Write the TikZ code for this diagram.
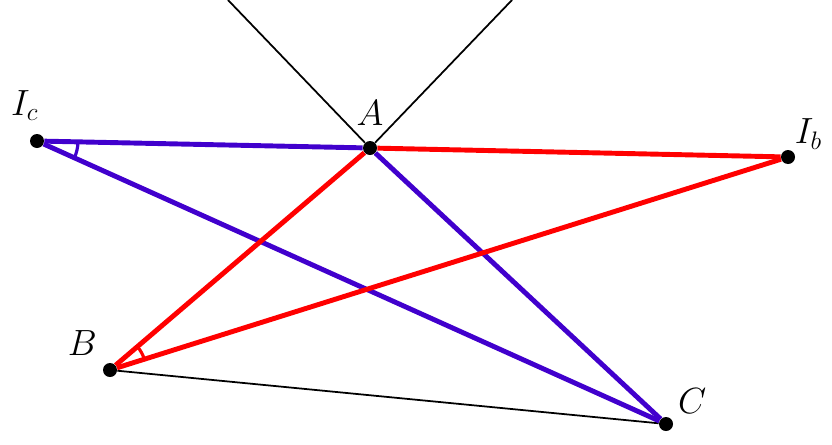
\documentclass[tikz,border=0pt]{standalone}
\usetikzlibrary{angles}
\definecolor{myblue}{RGB}{65,0,205}
\tikzset{
  dot/.style={circle,fill=black,inner sep=0pt,minimum size=0.28cm},
  lbl/.style={font=\fontsize{21}{25}\selectfont},
  blueline/.style={myblue,line width=2.8pt},
  redline/.style={red,line width=2.8pt},
  thin line/.style={black,line width=1pt},
}
\begin{document}
\begin{tikzpicture}
      \useasboundingbox (0,0) rectangle (16.64,8.88);
      \draw
        (0.74,6.06) node[dot,label={[lbl,inner sep=0pt,label distance=7pt,xshift=-7pt]90:$I_c$}] (Ic){}
        (7.40,5.92) node[dot,label={[lbl,label distance=5pt]90:$A$}] (A){}
        (15.76,5.74) node[dot,label={[lbl,inner sep=1pt,label distance=0pt]50:$I_b$}] (Ib){}
        (2.20,1.48) node[dot,label={[lbl,label distance=2pt]130:$B$}] (B){}
        (13.32,0.40) node[dot,label={[lbl,label distance=0pt]35:$C$}] (C){};
      \coordinate (ul) at (4.56,8.88);
      \coordinate (ur) at (10.24,8.88);
      \begin{scope}[thin line]
        \draw (A) to (ul);
        \draw (A) to (ur);
        \draw (B) to (C);
      \end{scope}
      \begin{scope}[blueline]
        \draw (Ic) to (A);
        \draw (Ic) to (C);
        \draw (A) to (C);
        \draw pic[draw=myblue,line width=1.8pt,angle radius=0.82cm] {angle=C--Ic--A};
      \end{scope}
      \begin{scope}[redline]
        \draw (A) to (Ib);
        \draw (A) to (B);
        \draw (B) to (Ib);
        \draw pic[draw=red,line width=1.8pt,angle radius=0.72cm] {angle=Ib--B--A};
      \end{scope}
    \end{tikzpicture}
\end{document}
